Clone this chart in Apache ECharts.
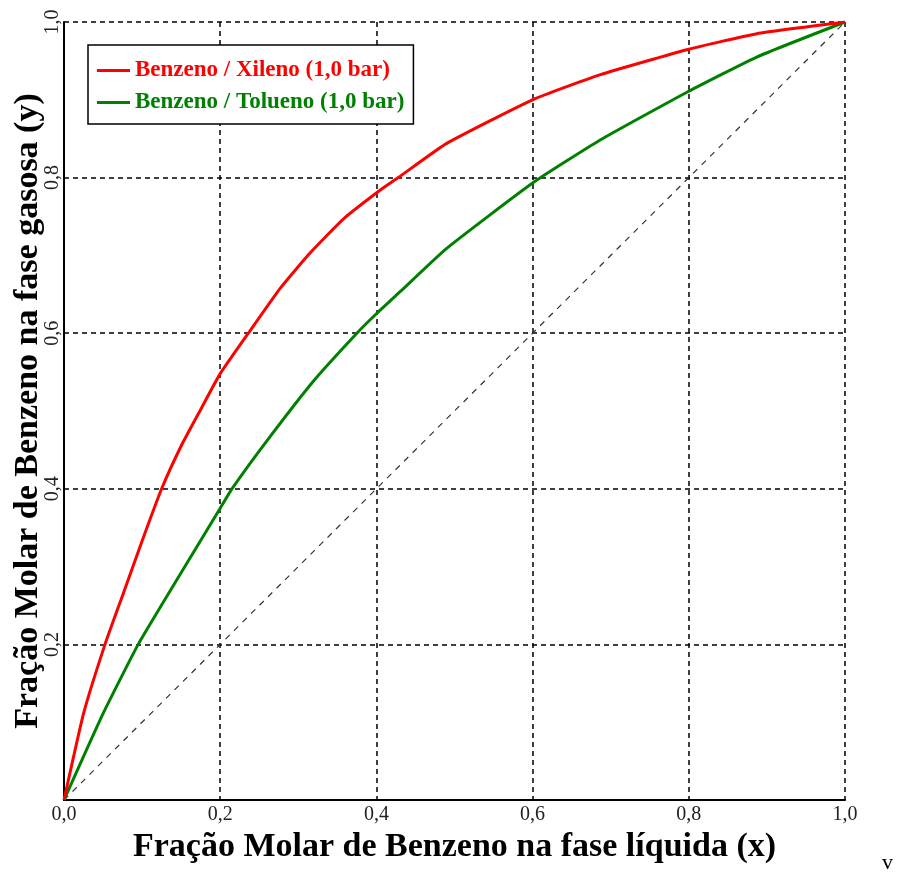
<!DOCTYPE html>
<html>
<head>
<meta charset="utf-8">
<script src="https://cdn.jsdelivr.net/npm/echarts@6/dist/echarts.min.js"></script>
<style>html,body{margin:0;padding:0;background:#fff;}#c{width:901px;height:879px;}</style>
</head>
<body>
<div id="c"></div>
<script>
// Benzeno / Xileno (1,0 bar): [x, y]
var xilenoX = [0, 0.025, 0.0525, 0.075, 0.1, 0.125, 0.15, 0.174, 0.2, 0.236, 0.277, 0.315, 0.358, 0.405, 0.428, 0.49, 0.6, 0.686, 0.8, 0.887, 1];
var xilenoY = [0, 0.111, 0.2, 0.263, 0.333, 0.40, 0.455, 0.5, 0.548, 0.6, 0.658, 0.703, 0.747, 0.784, 0.8, 0.844, 0.90, 0.932, 0.965, 0.985, 1];
// Benzeno / Tolueno (1,0 bar)
var toluenoX = [0, 0.05, 0.095, 0.136, 0.174, 0.2, 0.215, 0.26, 0.319, 0.375, 0.4, 0.43, 0.49, 0.6, 0.686, 0.8, 0.887, 1];
var toluenoY = [0, 0.111, 0.2, 0.269, 0.332, 0.375, 0.4, 0.462, 0.538, 0.6, 0.625, 0.653, 0.709, 0.793, 0.848, 0.911, 0.955, 1];
// diagonal y = x
var diagX = [0, 1];
var diagY = [0, 1];
var seriesNames = ['Benzeno / Xileno (1,0 bar)', 'Benzeno / Tolueno (1,0 bar)'];
var xTitle = 'Fração Molar de Benzeno na fase líquida (x)';
var yTitle = 'Fração Molar de Benzeno na fase gasosa (y)';

function pairs(a, b) { return a.map(function (v, i) { return [v, b[i]]; }); }
function fmt(v) { return v.toFixed(1).replace('.', ','); }

var serif = '"Liberation Serif", "Times New Roman", serif';
var chart = echarts.init(document.getElementById('c'));
var grid = { type: [5, 4], color: '#000', width: 1.5 };
chart.setOption({
  animation: false,
  backgroundColor: '#fff',
  grid: { left: 64, right: 56, top: 22, bottom: 79, containLabel: false, outerBoundsMode: 'none' },
  legend: {
    orient: 'vertical',
    left: 88, top: 45,
    padding: [14, 9, 10, 9],
    itemGap: 9,
    itemWidth: 33, itemHeight: 3,
    itemStyle: { borderWidth: 0 },
    borderColor: '#000', borderWidth: 1.5,
    backgroundColor: '#fff',
    icon: 'rect',
    textStyle: { fontFamily: serif, fontWeight: 'bold', fontSize: 23 },
    data: [
      { name: seriesNames[0], textStyle: { color: '#ff0000' } },
      { name: seriesNames[1], textStyle: { color: '#008000' } }
    ]
  },
  xAxis: {
    type: 'value', min: 0, max: 1, interval: 0.2,
    name: xTitle, nameLocation: 'middle', nameGap: 30, nameMoveOverlap: false,
    nameTextStyle: { fontFamily: serif, fontWeight: 'bold', fontSize: 34, color: '#000' },
    axisLine: { lineStyle: { color: '#000', width: 2 } },
    axisTick: { show: false },
    axisLabel: { fontFamily: serif, fontSize: 20, color: '#222', margin: 5, formatter: fmt },
    splitLine: { show: true, lineStyle: grid }
  },
  yAxis: {
    type: 'value', min: 0, max: 1, interval: 0.2,
    name: yTitle, nameLocation: 'middle', nameGap: 19, nameMoveOverlap: false,
    nameTextStyle: { fontFamily: serif, fontWeight: 'bold', fontSize: 34, color: '#000' },
    axisLine: { show: true, lineStyle: { color: '#000', width: 2 } },
    axisTick: { show: false },
    axisLabel: { fontFamily: serif, fontSize: 20, color: '#222', margin: 1, rotate: 90,
      formatter: function (v) { return v === 0 ? '' : fmt(v); } },
    splitLine: { show: true, lineStyle: grid }
  },
  series: [
    { type: 'line', name: 'diag', data: pairs(diagX, diagY), showSymbol: false, silent: true,
      lineStyle: { color: '#333', width: 1.2, type: [6, 6] }, z: 1 },
    { type: 'line', name: seriesNames[0], data: pairs(xilenoX, xilenoY), showSymbol: false,
      smooth: 0.15,
      color: '#ff0000', lineStyle: { color: '#ff0000', width: 3 }, z: 3 },
    { type: 'line', name: seriesNames[1], data: pairs(toluenoX, toluenoY), showSymbol: false,
      smooth: 0.15,
      color: '#008000', lineStyle: { color: '#008000', width: 3 }, z: 2 }
  ],
  graphic: [
    { type: 'text', left: 882, top: 852, style: { text: 'v', font: '22px ' + serif, fill: '#000' } }
  ]
});
</script>
</body>
</html>
